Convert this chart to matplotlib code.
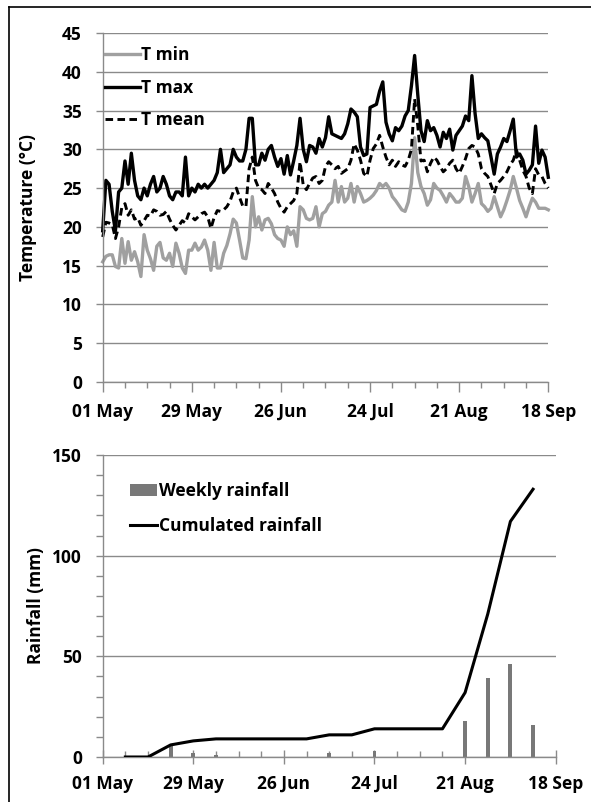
import matplotlib
matplotlib.use("Agg")
import matplotlib.pyplot as plt
import matplotlib.dates as mdates
from matplotlib.lines import Line2D
import pandas as pd

plt.rcParams['font.family'] = ['Open Sans', 'DejaVu Sans']
plt.rcParams['font.weight'] = 'bold'

# daily temperatures, 01 May - 18 Sep
days = pd.date_range('2011-05-01', '2011-09-18', freq='D')

t_min = [15.5, 16.2, 16.4, 16.4, 14.9, 14.7, 18.5, 15.3, 18.1, 15.7,
         16.8, 15.5, 13.6, 19.0, 17.0, 15.9, 14.4, 17.5, 18.0, 16.0,
         15.7, 16.6, 14.9, 17.9, 16.6, 14.7, 14.0, 17.0, 17.0, 17.9,
         17.0, 17.4, 18.3, 17.0, 14.4, 18.0, 14.7, 14.7, 16.6, 17.6,
         19.1, 21.0, 20.5, 18.3, 16.0, 15.9, 18.3, 23.9, 20.0, 21.3,
         19.6, 20.9, 21.1, 20.4, 19.0, 18.5, 18.3, 17.5, 20.0, 19.0,
         19.5, 17.5, 22.6, 22.2, 21.1, 20.9, 21.1, 22.6, 20.0, 21.7,
         22.0, 22.8, 23.2, 26.0, 23.2, 25.2, 23.2, 23.7, 25.6, 23.2,
         25.2, 24.3, 23.2, 23.4, 23.7, 24.1, 24.7, 25.6, 25.2, 25.6,
         25.0, 23.9, 23.4, 22.8, 22.2, 22.0, 23.2, 25.6, 31.5, 27.0,
         25.2, 24.3, 22.8, 23.5, 25.6, 25.0, 24.7, 24.0, 23.2, 24.3,
         23.8, 23.2, 23.2, 23.7, 26.5, 25.2, 23.2, 24.3, 25.6, 23.0,
         22.6, 22.0, 22.4, 23.9, 22.6, 21.3, 22.2, 23.4, 24.7, 26.5,
         25.0, 23.4, 22.4, 21.3, 22.6, 23.7, 23.2, 22.4, 22.4, 22.4,
         22.2]

t_max = [19.5, 26.0, 25.5, 22.0, 19.5, 24.5, 25.0, 28.5, 25.5, 29.5,
         26.0, 24.0, 23.5, 25.0, 24.0, 25.5, 26.5, 24.5, 25.0, 26.5,
         25.5, 24.0, 23.5, 24.5, 24.5, 24.0, 29.0, 24.0, 25.0, 24.5,
         25.5, 25.0, 25.5, 25.0, 25.5, 26.0, 27.0, 30.0, 27.0, 27.5,
         28.0, 30.0, 29.0, 28.5, 28.5, 30.0, 34.0, 34.0, 28.0, 28.0,
         29.5, 28.6, 30.0, 30.5, 29.0, 27.8, 28.8, 26.8, 29.2, 26.7,
         28.5, 30.5, 34.0, 30.0, 28.4, 30.5, 30.3, 29.5, 31.4, 30.3,
         31.5, 34.2, 32.0, 31.8, 31.6, 31.4, 32.0, 33.3, 35.2, 34.8,
         34.2, 30.3, 29.2, 29.4, 35.4, 35.6, 35.8, 37.5, 38.7, 33.5,
         32.0, 31.1, 32.8, 32.4, 33.0, 34.3, 35.0, 38.2, 42.1, 37.0,
         32.4, 31.0, 33.7, 32.4, 32.8, 31.8, 30.3, 32.2, 31.4, 32.6,
         29.9, 31.8, 32.4, 33.0, 34.3, 33.7, 39.5, 34.6, 31.4, 32.0,
         31.5, 31.1, 29.0, 26.8, 29.4, 30.3, 31.4, 31.0, 32.4, 33.9,
         29.0, 29.4, 28.6, 26.8, 27.3, 28.0, 33.0, 28.2, 29.9, 29.0,
         26.4]

t_mean = [18.7, 20.6, 20.5, 20.3, 18.5, 20.0, 22.5, 23.0, 21.5, 22.2,
          21.0, 21.2, 20.2, 20.8, 21.5, 21.4, 22.2, 22.0, 21.5, 21.6,
          22.0, 21.0, 20.2, 19.6, 20.2, 20.8, 20.5, 21.7, 21.3, 20.9,
          21.3, 21.7, 21.9, 21.3, 19.8, 21.2, 22.1, 22.0, 22.2, 22.6,
          23.3, 24.5, 25.0, 23.8, 22.7, 22.6, 27.5, 29.0, 26.0, 25.0,
          24.8, 24.3, 25.6, 25.0, 24.3, 23.2, 22.4, 21.9, 22.6, 23.0,
          23.4, 24.3, 28.4, 25.4, 24.8, 25.6, 26.3, 26.5, 25.6, 26.0,
          27.8, 28.4, 28.0, 27.5, 27.8, 26.9, 27.2, 27.5, 28.6, 30.7,
          29.9, 28.6, 26.9, 26.5, 28.6, 30.1, 30.7, 31.8, 30.3, 29.0,
          28.0, 28.6, 27.8, 28.4, 28.0, 27.8, 28.6, 30.0, 36.5, 33.0,
          28.5, 28.6, 27.1, 28.2, 29.0, 28.6, 27.8, 27.1, 27.5, 28.2,
          28.6, 27.5, 26.9, 27.8, 28.8, 30.1, 30.5, 30.3, 29.4, 27.5,
          26.9, 26.5, 25.4, 24.3, 25.6, 26.0, 26.5, 27.1, 28.0, 28.6,
          29.9, 28.6, 27.3, 26.5, 25.0, 24.3, 27.5, 26.7, 26.5, 25.6,
          25.0]

# weekly rainfall
weeks = pd.date_range('2011-05-08', '2011-09-11', freq='7D')
weekly_rain = [0, 0, 6, 2, 1, 0, 0, 0, 0, 2, 0, 3, 0, 0, 0, 18, 39, 46, 16]
cum_rain = [0, 0, 6, 8, 9, 9, 9, 9, 9, 11, 11, 14, 14, 14, 14, 32, 71, 117, 133]

start = pd.Timestamp('2011-05-01')
end = pd.Timestamp('2011-09-18')
major = pd.date_range(start, end, freq='28D')
minor = pd.date_range(start, end, freq='7D')

axis_gray = '#8a8a8a'
fs = 12.5

fig = plt.figure(figsize=(5.91, 8.02), dpi=100)

# frame around the figure
fig.add_artist(Line2D([9 / 591, 9 / 591], [0, 1 - 7 / 802], color='black', lw=1.2,
                      transform=fig.transFigure))
fig.add_artist(Line2D([9 / 591, 1], [1 - 7 / 802, 1 - 7 / 802], color='black', lw=1.2,
                      transform=fig.transFigure))


def style_axes(ax):
    for s in ['top', 'right']:
        ax.spines[s].set_visible(False)
    for s in ['left', 'bottom']:
        ax.spines[s].set_color(axis_gray)
        ax.spines[s].set_linewidth(1.0)
    ax.yaxis.grid(True, color=axis_gray, lw=1.0)
    ax.set_axisbelow(True)
    ax.set_xlim(start, end)
    ax.set_xticks(major)
    ax.set_xticks(minor, minor=True)
    ax.xaxis.set_major_formatter(mdates.DateFormatter('%d %b'))
    ax.tick_params(labelsize=fs, colors=axis_gray, labelcolor='black')
    ax.tick_params(which='minor', colors=axis_gray)
    for lab in ax.get_xticklabels() + ax.get_yticklabels():
        lab.set_fontweight('bold')


# temperature panel
ax1 = fig.add_axes([102.7 / 591, 1 - 382 / 802, 445.6 / 591, 349 / 802])
ax1.plot(days, t_min, color='#a0a0a0', lw=2.4, label='T min', clip_on=False)
ax1.plot(days, t_max, color='black', lw=2.4, label='T max', clip_on=False)
ax1.plot(days, t_mean, color='black', lw=2.1, ls=(0, (2.6, 1.5)), label='T mean', clip_on=False)
ax1.set_ylim(0, 45)
ax1.set_yticks(range(0, 46, 5))
style_axes(ax1)
ax1.tick_params(axis='x', which='major', direction='out', length=7, width=1, pad=8)
ax1.tick_params(axis='x', which='minor', direction='out', length=4, width=1)
ax1.tick_params(axis='y', direction='out', length=5, width=1, pad=10)
ax1.set_ylabel('Temperature (°C)', fontsize=fs, fontweight='bold')
ax1.yaxis.set_label_coords(-0.147, 0.5)
ax1.legend(loc='upper left', bbox_to_anchor=(0.005, 0.963), frameon=False,
           handlelength=2.0, handletextpad=0.1, labelspacing=0.85,
           borderpad=0, borderaxespad=0, prop={'weight': 'bold', 'size': fs})

# rainfall panel
ax2 = fig.add_axes([102.7 / 591, 1 - 757 / 802, 453 / 591, 302 / 802])
bars = ax2.bar(weeks, weekly_rain, width=1.2, color='#787878', label='Weekly rainfall', zorder=2)
cum_line, = ax2.plot(weeks, cum_rain, color='black', lw=2.2, label='Cumulated rainfall', zorder=3)
ax2.set_ylim(0, 150)
ax2.set_yticks([0, 50, 100, 150])
ax2.set_yticks(range(0, 151, 10), minor=True)
style_axes(ax2)
ax2.tick_params(axis='x', which='major', direction='inout', length=10, width=1, pad=8)
ax2.tick_params(axis='x', which='minor', direction='in', length=4, width=1)
ax2.tick_params(axis='y', which='both', direction='out', length=5, width=1, pad=10)
ax2.set_ylabel('Rainfall (mm)', fontsize=fs, fontweight='bold')
ax2.yaxis.set_label_coords(-0.127, 0.5)
ax2.legend([bars, cum_line], ['Weekly rainfall', 'Cumulated rainfall'],
           loc='upper left', bbox_to_anchor=(0.06, 0.91), frameon=False,
           handlelength=1.55, handletextpad=0.15, labelspacing=0.95,
           borderpad=0, borderaxespad=0, prop={'weight': 'bold', 'size': fs})

fig.savefig('out.png', dpi=100)
